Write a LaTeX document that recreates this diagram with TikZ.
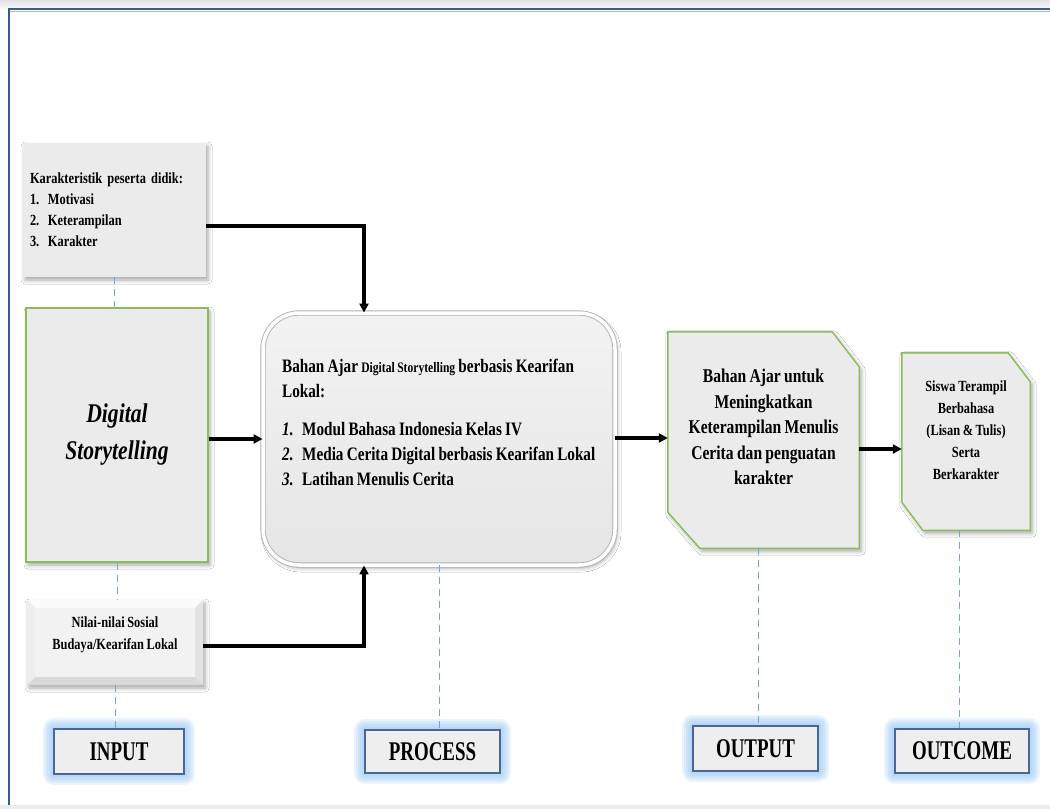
\documentclass[tikz,border=0pt]{standalone}
\usepackage{fontspec}
\setmainfont{Liberation Serif}[FakeStretch=0.8, WordSpace=0.85]
\newfontfamily\labelfont{Liberation Serif}[FakeStretch=0.7]
\usetikzlibrary{arrows.meta,shadows.blur}

\definecolor{boxgray}{HTML}{EBEBEB}
\definecolor{leafgreen}{HTML}{8DBB5A}
\definecolor{frameblue}{HTML}{3D5A8C}
\definecolor{labelblue}{HTML}{4A6696}
\definecolor{labelfill}{HTML}{EEEEEE}
\definecolor{glowblue}{HTML}{8CC0F5}
\definecolor{dashblue}{HTML}{6FA6DE}

\begin{document}
\begin{tikzpicture}[x=1pt,y=-1pt,
  softshadow/.style={blur shadow={shadow xshift=2pt, shadow yshift=-3pt, shadow blur radius=4pt, shadow opacity=35}},
  plainbox/.style={fill=boxgray, softshadow, inner sep=0pt},
  greenbox/.style={fill=boxgray, draw=leafgreen, line width=1.4pt, softshadow, inner sep=0pt},
  greenshape/.style={fill=boxgray, draw=leafgreen, line width=1.4pt, softshadow},
  procbox/.style={rounded corners=36pt, draw=gray!60, double=white, double distance=3.5pt, line width=0.9pt, softshadow, inner sep=0pt},
  glowring/.style={preaction={draw=glowblue, opacity=0.17, line width=#1, line join=round}},
  labelbox/.style={glowring=22pt, glowring=18pt, glowring=14pt, glowring=10pt, glowring=6pt,
    fill=labelfill, draw=labelblue, line width=1.3pt, inner sep=0pt,
    font=\labelfont\bfseries\fontsize{27}{27}\selectfont},
  conn/.style={line width=3.2pt, -{Triangle[length=9pt,width=9pt]}},
  dashline/.style={draw=dashblue, line width=0.9pt, dash pattern=on 7pt off 5pt},
  boxtext/.style={font=\bfseries, inner sep=0pt}
]
\useasboundingbox (0,0) rectangle (1050,809);

% page and frame
\fill[white] (0,0) rectangle (1050,809);
\shade[top color=gray!22, bottom color=gray!6] (0,0) rectangle (1050,8);
\fill[gray!14] (0,805) rectangle (1050,809);
\draw[frameblue, line width=2pt] (9,805) -- (9,9) -- (1050,9);
\draw[frameblue!45, line width=0.8pt] (10,11.5) -- (1050,11.5);

% input column
\node[plainbox, minimum width=183, minimum height=134, text width=169pt, align=left,
      font=\bfseries\fontsize{15.5}{21}\selectfont, inner xsep=7pt] (kar) at (114.5,210)
  {Karakteristik peserta didik:\\
   \makebox[18pt][l]{1.}Motivasi\\
   \makebox[18pt][l]{2.}Keterampilan\\
   \makebox[18pt][l]{3.}Karakter};

\node[greenbox, minimum width=182, minimum height=254, align=center,
      font=\bfseries\itshape\fontsize{27}{37}\selectfont] (dig) at (117,435)
  {Digital\\Storytelling};

\node[fill=gray!18, softshadow, minimum width=176, minimum height=85, inner sep=0pt] (nil) at (115,642.5) {};
\fill[gray!3]  (nil.north west) -- (nil.north east) -- ([shift={(-8pt,-8pt)}]nil.north east) -- ([shift={(8pt,-8pt)}]nil.north west) -- cycle;
\fill[gray!22] (nil.north east) -- (nil.south east) -- ([shift={(-8pt,8pt)}]nil.south east) -- ([shift={(-8pt,-8pt)}]nil.north east) -- cycle;
\fill[gray!30] (nil.south east) -- (nil.south west) -- ([shift={(8pt,8pt)}]nil.south west) -- ([shift={(-8pt,8pt)}]nil.south east) -- cycle;
\fill[gray!14] (nil.south west) -- (nil.north west) -- ([shift={(8pt,-8pt)}]nil.north west) -- ([shift={(8pt,8pt)}]nil.south west) -- cycle;
\fill[gray!10] ([shift={(8pt,-8pt)}]nil.north west) rectangle ([shift={(-8pt,8pt)}]nil.south east);
\node[boxtext, align=center, font=\bfseries\fontsize{15.5}{22}\selectfont] (niltext) at ([yshift=8pt]nil.center)
  {Nilai-nilai Sosial\\Budaya/Kearifan Lokal};

% process
\node[procbox, top color=gray!10, bottom color=gray!20, minimum width=352, minimum height=252] (proc) at (439,439) {};
\node[boxtext, anchor=north west, align=left, font=\bfseries\fontsize{19}{25}\selectfont] (ptext) at (282,359)
  {Bahan Ajar {\fontsize{14.5}{25}\selectfont Digital Storytelling} berbasis Kearifan\\
   Lokal:\\[13pt]
   \makebox[20pt][l]{\itshape 1.}Modul Bahasa Indonesia Kelas IV\\
   \makebox[20pt][l]{\itshape 2.}Media Cerita Digital berbasis Kearifan Lokal\\
   \makebox[20pt][l]{\itshape 3.}Latihan Menulis Cerita};

% output
\node[minimum width=191, minimum height=216, inner sep=0pt] (out) at (763.5,440) {};
\path[greenshape] (out.north west) -- ([xshift=-27pt]out.north east) -- ([yshift=-35pt]out.north east)
  -- (out.south east) -- ([xshift=32pt]out.south west) -- ([yshift=36pt]out.south west) -- cycle;
\node[boxtext, align=center, font=\bfseries\fontsize{19.5}{25.5}\selectfont] (outtext) at ([yshift=13pt]out.center)
  {Bahan Ajar untuk\\Meningkatkan\\Keterampilan Menulis\\Cerita dan penguatan\\karakter};

% outcome
\node[minimum width=128, minimum height=177, inner sep=0pt] (oc) at (966,441.5) {};
\path[greenshape] (oc.north west) -- ([xshift=-22pt]oc.north east) -- ([yshift=-29pt]oc.north east)
  -- (oc.south east) -- ([xshift=21pt]oc.south west) -- ([yshift=28pt]oc.south west) -- cycle;
\node[boxtext, align=center, font=\bfseries\fontsize{15.5}{22}\selectfont] (octext) at ([yshift=11pt]oc.center)
  {Siswa Terampil\\Berbahasa\\(Lisan \& Tulis)\\Serta\\Berkarakter};

% stage labels
\node[labelbox, minimum width=130, minimum height=45] (inlab) at (119,751.5) {INPUT};
\node[labelbox, minimum width=135, minimum height=43] (proclab) at (432.5,751.5) {PROCESS};
\node[labelbox, minimum width=125, minimum height=45] (outlab) at (755.5,748.5) {OUTPUT};
\node[labelbox, minimum width=134, minimum height=44] (oclab) at (962,751) {OUTCOME};

% dashed guides down each column
\draw[dashline] (kar.south) -- (kar.south |- dig.north);
\draw[dashline] (dig.south) -- (dig.south |- nil.north);
\draw[dashline] (nil.south) -- (nil.south |- inlab.north);
\draw[dashline] (proc.south) -- (proc.south |- proclab.north);
\draw[dashline] ([xshift=-5pt]out.south) -- ([xshift=-5pt]out.south |- outlab.north);
\draw[dashline] ([xshift=-7pt]oc.south) -- ([xshift=-7pt]oc.south |- oclab.north);

% connectors
\draw[conn] ([yshift=-16pt]kar.east) -| ([xshift=-75pt]proc.north);
\draw[conn] ([yshift=-3.5pt]nil.east) -| ([xshift=-75pt]proc.south);
\draw[conn] (dig.east |- proc.west) -- (proc.west);
\draw[conn] ([yshift=1pt]proc.east) -- ([yshift=1pt]proc.east -| out.west);
\draw[conn] ([yshift=-9pt]out.east) -- ([yshift=-9pt]out.east -| oc.west);
\end{tikzpicture}
\end{document}
